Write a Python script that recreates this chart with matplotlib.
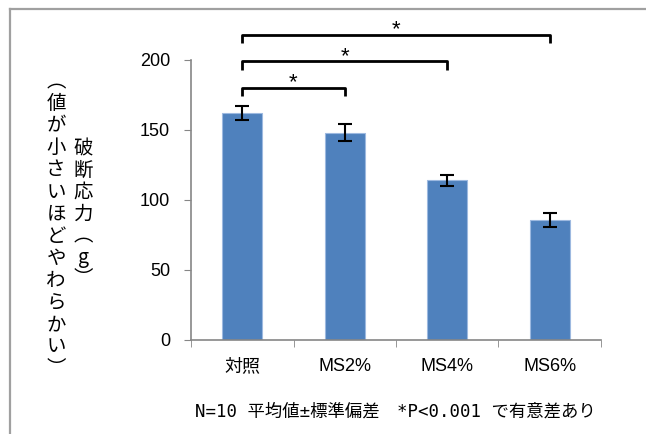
import numpy as np
import matplotlib.pyplot as plt
from matplotlib.lines import Line2D

plt.rcParams['font.family'] = ['Liberation Sans', 'Noto Sans CJK JP']

groups = ['対照', 'MS2%', 'MS4%', 'MS6%']
means = [162, 148, 114, 86]
sd = [5, 6, 4, 5]
yticks = [0, 50, 100, 150, 200]

# significance brackets: (from group, to group, bracket height, leg length)
pairs = [(0, 1, 180, 6), (0, 2, 199, 6), (0, 3, 218, 6)]

fig = plt.figure(figsize=(6.46, 4.34), dpi=100)
ax = fig.add_axes([0.2957, 0.2166, 0.6346, 0.6452])

x = np.arange(len(groups))
ax.bar(x, means, width=0.39, color='#4F81BD', edgecolor='#9DB9E0', linewidth=0.8)
ax.errorbar(x, means, yerr=sd, fmt='none', ecolor='black', elinewidth=1.5,
            capsize=5, capthick=1.5)

ax.set_xlim(-0.5, 3.5)
ax.set_ylim(0, 200)
ax.set_yticks(yticks)
ax.set_yticklabels([str(v) for v in yticks], fontsize=13)
ax.set_xticks(x)
ax.set_xticklabels(groups, fontsize=13)
ax.tick_params(axis='x', length=0, pad=13)
ax.tick_params(axis='y', length=5, color='#868686', pad=10)
# category boundary ticks on the x axis
ax.set_xticks(np.arange(-0.5, 4.0, 1.0), minor=True)
ax.tick_params(axis='x', which='minor', length=5, color='#868686')

for s in ['top', 'right']:
    ax.spines[s].set_visible(False)
for s in ['left', 'bottom']:
    ax.spines[s].set_color('#868686')
    ax.spines[s].set_linewidth(1.2)

for a, b, h, leg in pairs:
    ax.plot([a, a, b, b], [h - leg, h, h, h - leg], color='black', lw=2,
            clip_on=False, solid_capstyle='butt')
    ax.text((a + b) / 2, h - 4, '*', ha='center', va='bottom', fontsize=16,
            clip_on=False)

# axis titles, written vertically
ax.text(-0.263, 0.45, '\n'.join('破断応力︵g︶'), transform=ax.transAxes,
        ha='center', va='center', fontsize=14, linespacing=1.04,
        family=['Noto Sans CJK JP'])
ax.text(-0.329, 0.41, '\n'.join('︵値が小さいほどやわらかい︶'), transform=ax.transAxes,
        ha='center', va='center', fontsize=14, linespacing=1.07,
        family=['Noto Sans CJK JP'])

fig.text(195 / 646, 0.051, 'N=10 平均値±標準偏差　*P<0.001 で有意差あり', fontsize=12.5,
         ha='left', va='center', family=['DejaVu Sans Mono', 'Noto Sans CJK JP'])

# frame lines at left and top
fig.add_artist(Line2D([10 / 646, 10 / 646], [0, 1 - 9 / 434], color='#A0A0A0', lw=1.6))
fig.add_artist(Line2D([10 / 646, 1], [1 - 9 / 434, 1 - 9 / 434], color='#A0A0A0', lw=1.6))

fig.savefig('out.png', dpi=100)
